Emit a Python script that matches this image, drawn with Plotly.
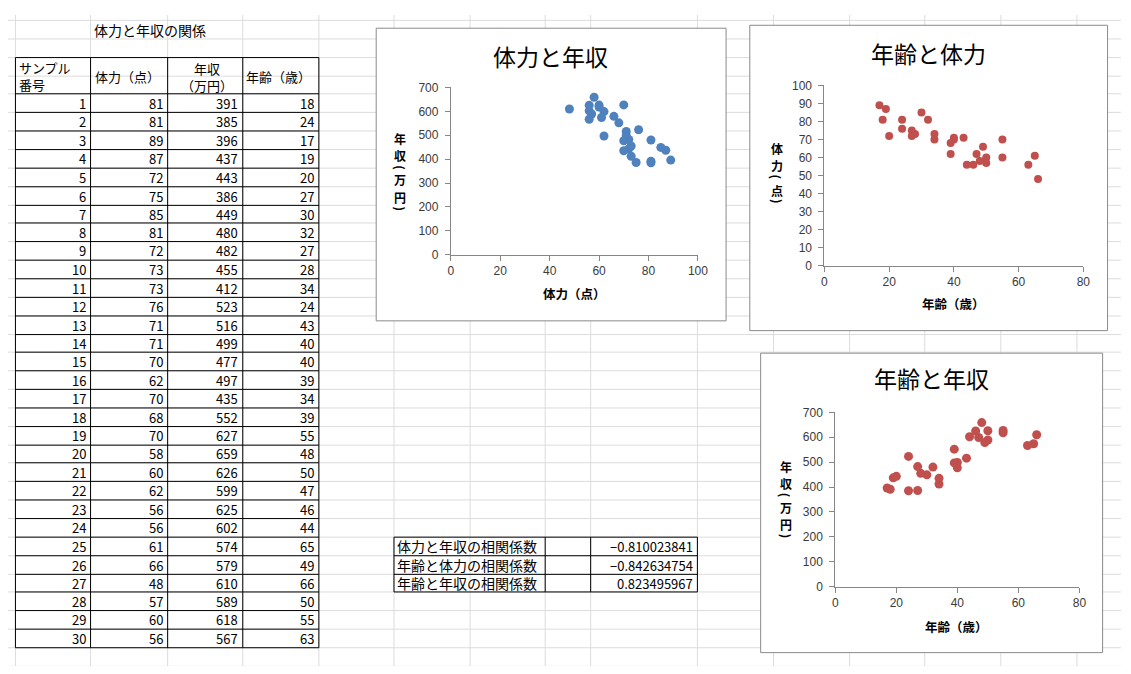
import plotly.graph_objects as go

W, H = 1131, 674          # reference picture size
OFF = 8                   # default body margin of the page
FW, FH = W - 2 * OFF, H - 2 * OFF   # figure size so the page is exactly W x H

# ---------------- data ----------------
sample_no = list(range(1, 31))
stamina = [81, 81, 89, 87, 72, 75, 85, 81, 72, 73, 73, 76, 71, 71, 70,
           62, 70, 68, 70, 58, 60, 62, 56, 56, 61, 66, 48, 57, 60, 56]
income = [391, 385, 396, 437, 443, 386, 449, 480, 482, 455, 412, 523, 516, 499, 477,
          497, 435, 552, 627, 659, 626, 599, 625, 602, 574, 579, 610, 589, 618, 567]
age = [18, 24, 17, 19, 20, 27, 30, 32, 27, 28, 34, 24, 43, 40, 40,
       39, 34, 39, 55, 48, 50, 47, 46, 44, 65, 49, 66, 50, 55, 63]

sheet_title = "体力と年収の関係"
corr_labels = ["体力と年収の相関係数", "年齢と体力の相関係数", "年齢と年収の相関係数"]
corr_values = ["−0.810023841", "−0.842634754", "0.823495967"]

chart_titles = ["体力と年収", "年齢と体力", "年齢と年収"]
x_titles = ["体力（点）", "年齢（歳）", "年齢（歳）"]
y_titles = [["年", "収", "(", "万", "円", ")"],
            ["体", "力", "(", "点", ")"],
            ["年", "収", "(", "万", "円", ")"]]

# ---------------- helpers ----------------
def X(p):
    return (p - OFF) / FW

def Y(p):
    return 1 - (p - OFF) / FH

JP = "Noto Sans CJK JP"
shapes = []
annotations = []

def line(x0, y0, x1, y1, color, width=1):
    shapes.append(dict(type="line", xref="paper", yref="paper",
                       x0=X(x0), y0=Y(y0), x1=X(x1), y1=Y(y1),
                       line=dict(color=color, width=width), layer="below"))

def text(x, y, s, size=13, xanchor="left", color="#000", family=JP, bold=False,
         align="left", angle=0):
    annotations.append(dict(xref="paper", yref="paper", x=X(x), y=Y(y), text=s,
                            showarrow=False, xanchor=xanchor, yanchor="middle", align=align,
                            textangle=angle,
                            font=dict(family=family, size=size, color=color,
                                      weight="bold" if bold else "normal")))

# spreadsheet grid
row_lines = [round(13 + k * 18.853) + 0.5 for k in range(36)]
col_lines = [12.5, 88.5, 166.5, 242.5, 319.5, 395.5, 472.5, 548.5, 594.5,
             702.5, 779.5, 856.5, 932.5, 1009.5, 1086.5]
GRID = "#dcdcdc"
for yy in row_lines:
    line(2, yy, W, yy, GRID)
for xx in col_lines:
    line(xx, 8, xx, H, GRID)

# chart boxes
boxes = [(377.5, 21.5, 731.5, 320.5), (755.5, 18.5, 1117.5, 330.5), (766.5, 353.5, 1112.5, 659.5)]
for (a, b, c, d) in boxes:
    shapes.append(dict(type="rect", xref="paper", yref="paper",
                       x0=X(a), y0=Y(b), x1=X(c), y1=Y(d),
                       fillcolor="white", line=dict(color="#8a8a8a", width=1), layer="below"))

# data table borders
BLK = "#000000"
tab_cols = col_lines[:5]
top = row_lines[2]
bottom = row_lines[34]
for xx in tab_cols:
    line(xx, top, xx, bottom, BLK)
line(tab_cols[0], top, tab_cols[-1], top, BLK)
for k in range(4, 35):
    line(tab_cols[0], row_lines[k], tab_cols[-1], row_lines[k], BLK)

# correlation table borders
c_cols = [col_lines[5], col_lines[7], col_lines[8], col_lines[9]]
for k in range(28, 32):
    line(c_cols[0], row_lines[k], c_cols[-1], row_lines[k], BLK)
for xx in c_cols:
    line(xx, row_lines[28], xx, row_lines[31], BLK)

# sheet texts
text(90, 23, sheet_title, size=14)
text(14, 70, "サンプル<br>番号", size=13, align="left")
text(91, 71, "体力（点）", size=13)
text(206, 71, "年収<br>（万円）", size=13, xanchor="center", align="center")
text(244, 71, "年齢（歳）", size=13)

for i in range(len(sample_no)):
    yc = (row_lines[4 + i] + row_lines[5 + i]) / 2
    for col_idx, vals in enumerate([sample_no, stamina, income, age]):
        text(tab_cols[col_idx + 1] - 3, yc, str(vals[i]), size=13, xanchor="right")

for j in range(len(corr_labels)):
    yc = (row_lines[28 + j] + row_lines[29 + j]) / 2
    text(397, yc, corr_labels[j], size=14)
    text(700, yc, corr_values[j], size=13, xanchor="right")

# ---------------- charts ----------------
fig = go.Figure()
fig.add_trace(go.Scatter(x=stamina, y=income, mode="markers", xaxis="x", yaxis="y",
                         marker=dict(color="#4F81BD", size=9), showlegend=False, hoverinfo="skip"))
fig.add_trace(go.Scatter(x=age, y=stamina, mode="markers", xaxis="x2", yaxis="y2",
                         marker=dict(color="#C0504D", size=8), showlegend=False, hoverinfo="skip"))
fig.add_trace(go.Scatter(x=age, y=income, mode="markers", xaxis="x3", yaxis="y3",
                         marker=dict(color="#C0504D", size=9), showlegend=False, hoverinfo="skip"))

def axis(dom, rng, dtick, anchor, is_y):
    d = dict(domain=dom, range=rng, dtick=dtick, anchor=anchor,
             showline=True, linecolor="#868686", linewidth=1,
             ticks="outside", ticklen=5, tickcolor="#868686", tickwidth=1,
             showgrid=False, zeroline=False, fixedrange=True,
             tickfont=dict(family="Liberation Sans", size=12, color="#3a3a3a"))
    if is_y:
        d["ticklabelstandoff"] = 4
    return d

plot_areas = [  # (x_left, x_right, y_bottom, y_top) in reference pixels
    (453, 703, 253, 82),
    (831, 1093, 264, 80),
    (842, 1089, 592, 414),
]
ranges = [([0, 100], 20, [0, 700], 100), ([0, 80], 20, [0, 100], 10), ([0, 80], 20, [0, 700], 100)]
names = [("xaxis", "yaxis", "y", "x"), ("xaxis2", "yaxis2", "y2", "x2"), ("xaxis3", "yaxis3", "y3", "x3")]

layout_axes = {}
for (xl, xr, yb, yt), (xr_, xd, yr_, yd), (xn, yn, ya, xa) in zip(plot_areas, ranges, names):
    layout_axes[xn] = axis([X(xl), X(xr)], xr_, xd, ya, False)
    layout_axes[yn] = axis([Y(yb), Y(yt)], yr_, yd, xa, True)

# chart titles & axis titles
title_pos = [(554, 50), (936, 47), (939, 379)]
xt_pos = [(578, 293), (962, 303), (965, 633)]
yt_x = [402, 783, 792]
yt_y = [[134, 152, 164, 176, 194, 206],
        [144, 162, 174, 187, 199],
        [469, 487, 499, 511, 529, 541]]
for k in range(3):
    text(title_pos[k][0], title_pos[k][1], chart_titles[k], size=23, xanchor="center")
    text(xt_pos[k][0], xt_pos[k][1], x_titles[k], size=12.5, xanchor="center", bold=True)
    for ch, yy in zip(y_titles[k], yt_y[k]):
        is_paren = ch in "()"
        text(yt_x[k], yy, ch, size=12, xanchor="center", bold=True,
             align="center", angle=90 if is_paren else 0)

fig.update_layout(
    width=FW, height=FH, autosize=False,
    margin=dict(l=0, r=0, t=0, b=0, pad=0),
    paper_bgcolor="white", plot_bgcolor="rgba(0,0,0,0)",
    shapes=shapes, annotations=annotations,
    showlegend=False,
    **layout_axes,
)

fig.write_html("out.html", config={"displayModeBar": False})
